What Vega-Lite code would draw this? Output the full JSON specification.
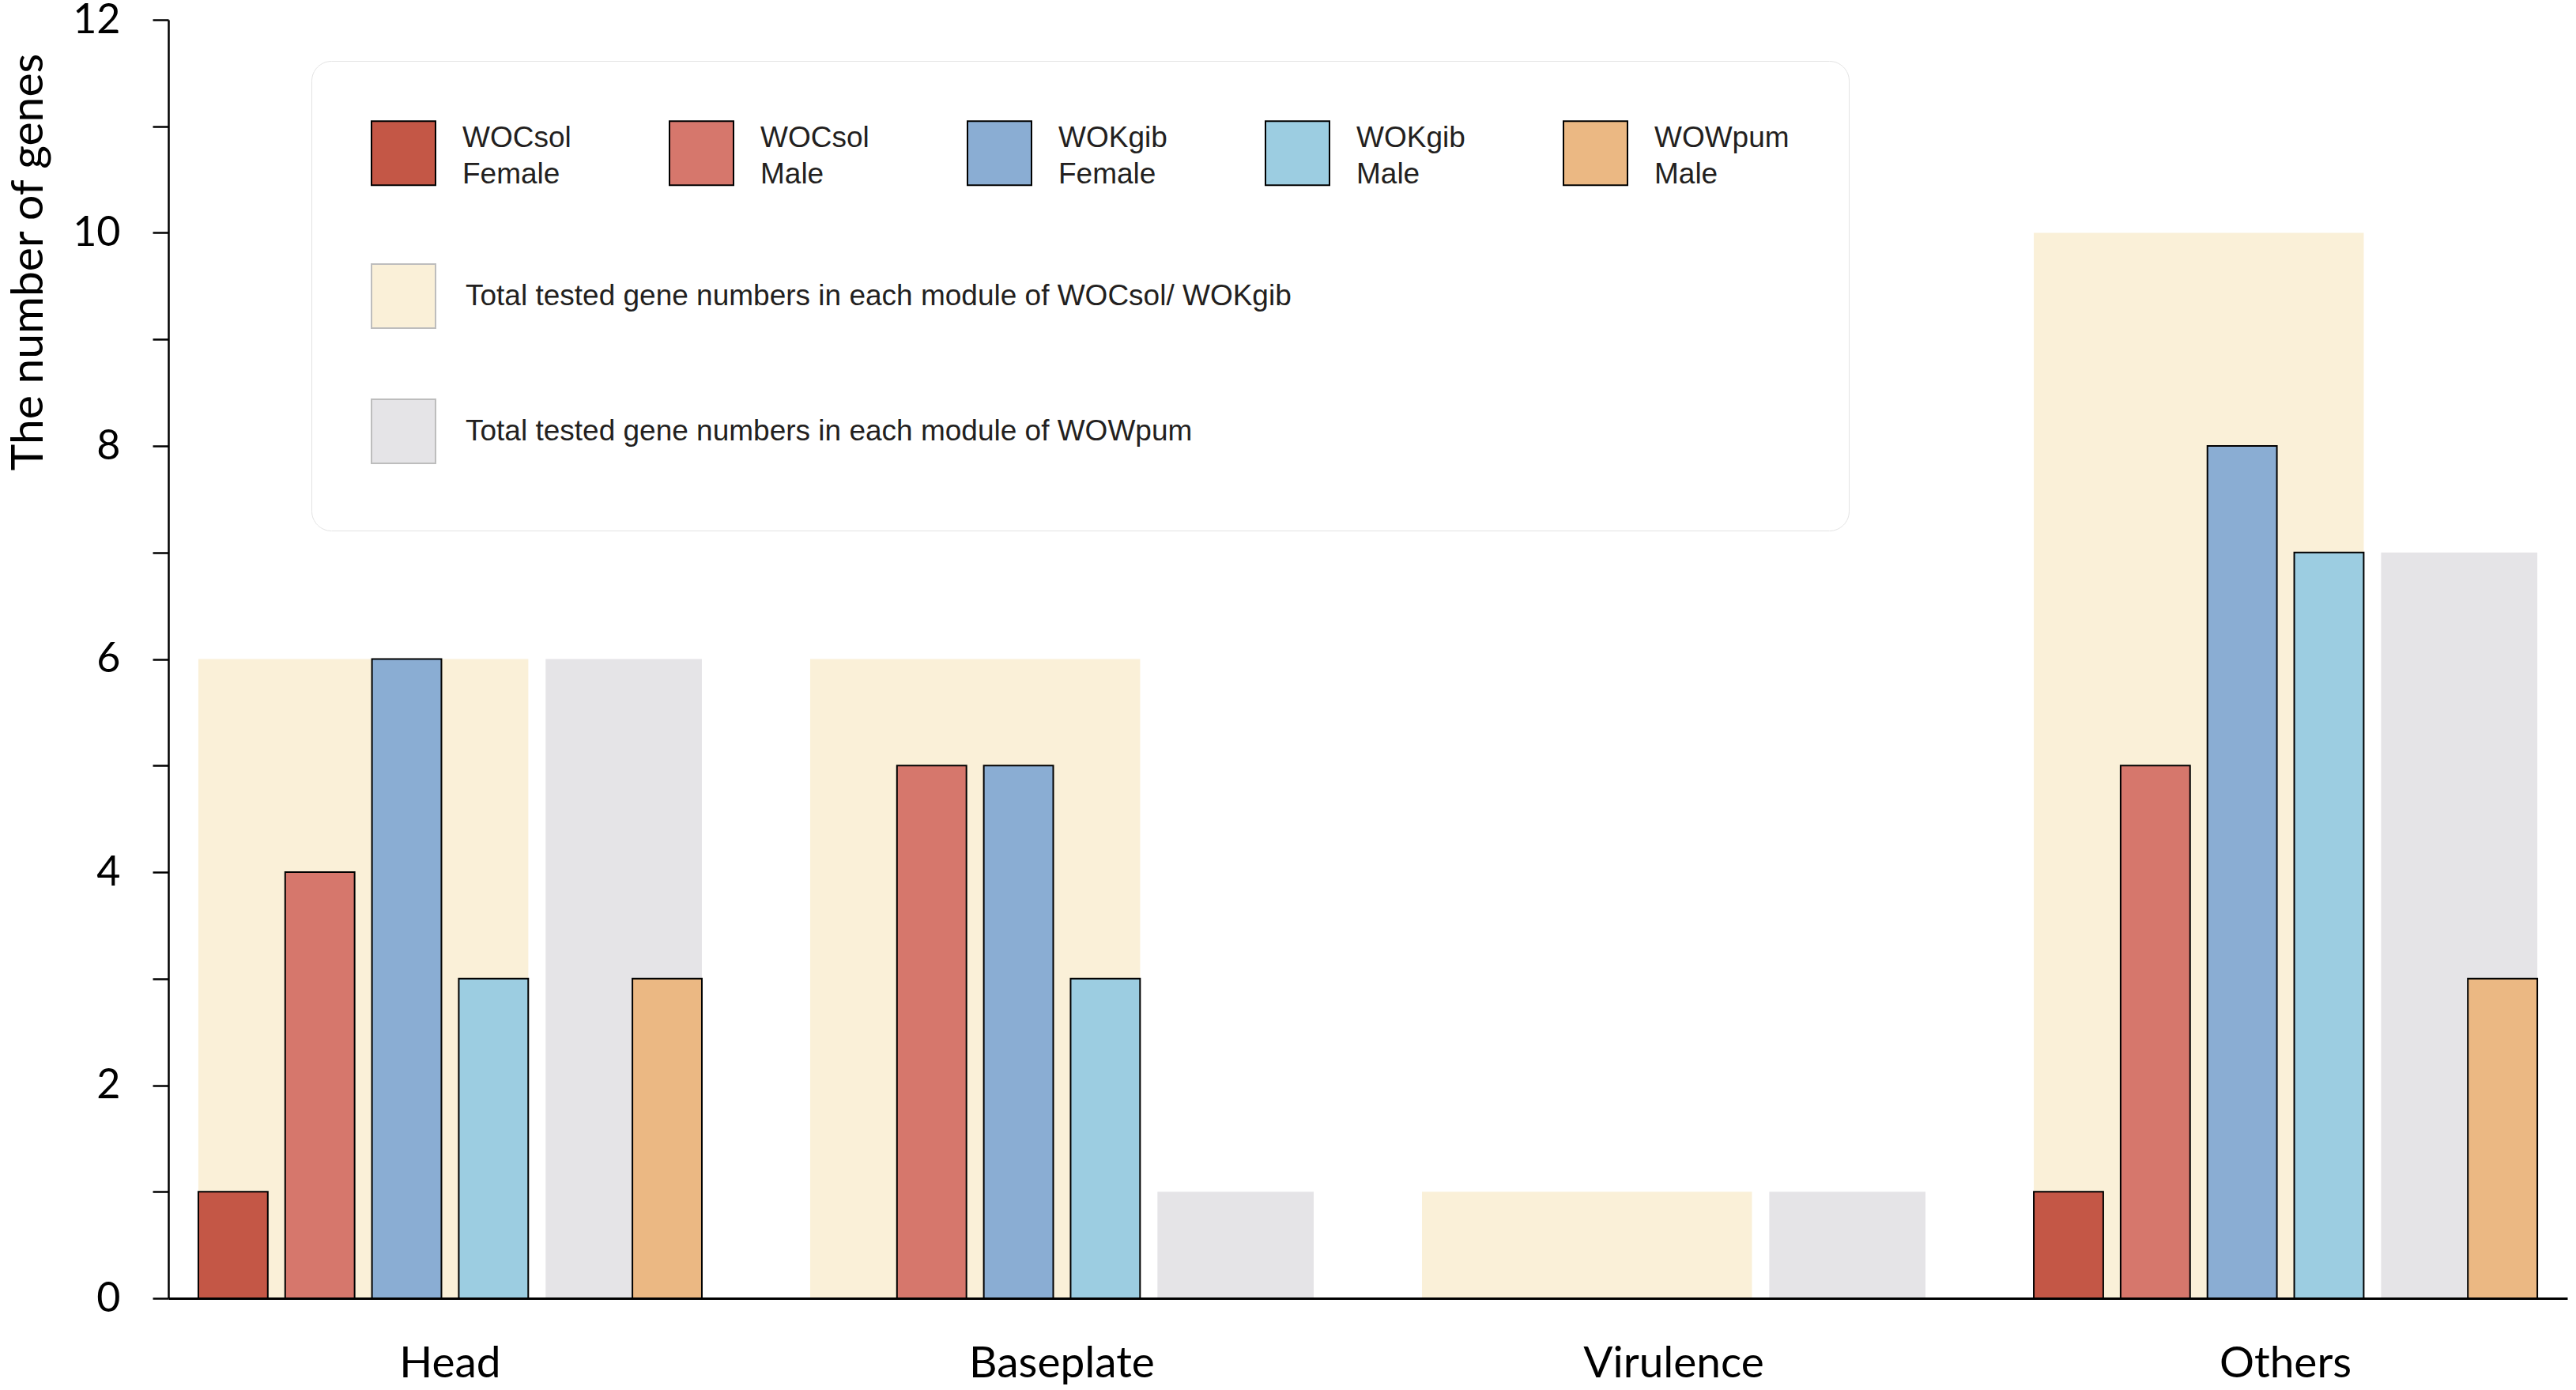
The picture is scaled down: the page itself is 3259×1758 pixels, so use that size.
{
  "$schema": "https://vega.github.io/schema/vega-lite/v6.json",
  "width": 3035,
  "height": 1617,
  "autosize": {"type": "none"},
  "padding": {"left": 213, "top": 25, "right": 11, "bottom": 116},
  "background": "white",
  "datasets": {
    "genes": [
      {"module": "Head", "series": "WOCsol Female", "genes": 1},
      {"module": "Head", "series": "WOCsol Male", "genes": 4},
      {"module": "Head", "series": "WOKgib Female", "genes": 6},
      {"module": "Head", "series": "WOKgib Male", "genes": 3},
      {"module": "Head", "series": "WOWpum Male", "genes": 3},
      {"module": "Baseplate", "series": "WOCsol Male", "genes": 5},
      {"module": "Baseplate", "series": "WOKgib Female", "genes": 5},
      {"module": "Baseplate", "series": "WOKgib Male", "genes": 3},
      {"module": "Others", "series": "WOCsol Female", "genes": 1},
      {"module": "Others", "series": "WOCsol Male", "genes": 5},
      {"module": "Others", "series": "WOKgib Female", "genes": 8},
      {"module": "Others", "series": "WOKgib Male", "genes": 7},
      {"module": "Others", "series": "WOWpum Male", "genes": 3}
    ],
    "totals": [
      {"module": "Head", "set": "Total tested gene numbers in each module of WOCsol/ WOKgib", "total": 6},
      {"module": "Head", "set": "Total tested gene numbers in each module of WOWpum", "total": 6},
      {"module": "Baseplate", "set": "Total tested gene numbers in each module of WOCsol/ WOKgib", "total": 6},
      {"module": "Baseplate", "set": "Total tested gene numbers in each module of WOWpum", "total": 1},
      {"module": "Virulence", "set": "Total tested gene numbers in each module of WOCsol/ WOKgib", "total": 1},
      {"module": "Virulence", "set": "Total tested gene numbers in each module of WOWpum", "total": 1},
      {"module": "Others", "set": "Total tested gene numbers in each module of WOCsol/ WOKgib", "total": 10},
      {"module": "Others", "set": "Total tested gene numbers in each module of WOWpum", "total": 7}
    ]
  },
  "layer": [
    {
      "data": {"name": "totals"},
      "transform": [{"filter": {"field": "set", "equal": "Total tested gene numbers in each module of WOCsol/ WOKgib"}}],
      "mark": {"type": "rect"},
      "encoding": {
        "x": {
          "field": "module", "type": "nominal", "bandPosition": 0, "title": null,
          "scale": {"domain": ["Head", "Baseplate", "Virulence", "Others"], "paddingInner": 0.177, "paddingOuter": 0.049},
          "axis": {"zindex": 1}
        },
        "x2": {"field": "module", "bandPosition": 0.6553},
        "y": {
          "field": "total", "type": "quantitative", "title": "The number of genes",
          "scale": {"domain": [0, 12], "nice": false},
          "axis": {
            "zindex": 1,
            "format": "d",
            "values": [0, 1, 2, 3, 4, 5, 6, 7, 8, 9, 10, 11, 12],
            "labelExpr": "datum.value % 2 == 0 ? datum.label : ''"
          }
        },
        "fill": {
          "field": "set", "type": "nominal",
          "scale": {
            "domain": ["Total tested gene numbers in each module of WOCsol/ WOKgib", "Total tested gene numbers in each module of WOWpum"],
            "range": ["#faf0d8", "#e5e4e7"]
          },
          "legend": {
            "orient": "none", "legendX": 256, "legendY": 308, "direction": "vertical", "title": null,
            "symbolType": "square", "symbolSize": 6561, "symbolStrokeColor": "#bdbdbd", "symbolStrokeWidth": 2, "symbolOpacity": 1,
            "labelFont": "Liberation Sans", "labelFontSize": 37, "labelColor": "#231f20", "labelOffset": 37, "labelLimit": 0,
            "rowPadding": 82, "padding": 0, "zindex": 2
          }
        }
      }
    },
    {
      "data": {"name": "totals"},
      "transform": [{"filter": {"field": "set", "equal": "Total tested gene numbers in each module of WOWpum"}}],
      "mark": {"type": "rect"},
      "encoding": {
        "x": {"field": "module", "type": "nominal", "bandPosition": 0.6897, "title": null},
        "x2": {"field": "module", "bandPosition": 1},
        "y": {"field": "total", "type": "quantitative", "title": "The number of genes"},
        "fill": {"field": "set", "type": "nominal"}
      }
    },
    {
      "data": {"name": "genes"},
      "mark": {"type": "bar", "stroke": "black", "strokeWidth": 2},
      "encoding": {
        "x": {"field": "module", "type": "nominal", "title": null},
        "xOffset": {
          "field": "series", "type": "nominal",
          "scale": {
            "domain": ["WOCsol Female", "WOCsol Male", "WOKgib Female", "WOKgib Male", "WOWpum Female", "WOWpum Male"],
            "paddingInner": 0.2, "paddingOuter": 0
          }
        },
        "y": {"field": "genes", "type": "quantitative", "title": "The number of genes"},
        "color": {
          "field": "series", "type": "nominal",
          "scale": {
            "domain": ["WOCsol Female", "WOCsol Male", "WOKgib Female", "WOKgib Male", "WOWpum Male"],
            "range": ["#c45746", "#d6776c", "#8aadd3", "#9ccde1", "#ebb883"]
          },
          "legend": {
            "orient": "none", "legendX": 181, "legendY": 52, "direction": "horizontal", "columns": 5,
            "title": " ", "titleOrient": "bottom", "titleFontSize": 10, "titlePadding": 347,
            "symbolType": "square", "symbolSize": 6561, "symbolStrokeColor": "black", "symbolStrokeWidth": 2, "symbolOpacity": 1,
            "labelFont": "Liberation Sans", "labelFontSize": 37, "labelColor": "#231f20", "labelOffset": 33, "labelLimit": 0,
            "labelBaseline": "bottom",
            "labelExpr": "split(datum.label, ' ')",
            "columnPadding": 120, "rowPadding": 0,
            "padding": 75, "strokeColor": "#e3e3e3", "cornerRadius": 25, "zindex": 1
          }
        }
      }
    }
  ],
  "config": {
    "view": {"stroke": null},
    "style": {"guide-label": {"lineHeight": 46}},
    "axis": {
      "grid": false, "domainColor": "black", "tickColor": "black", "labelColor": "black", "titleColor": "black",
      "labelFont": "Lato", "titleFont": "Lato"
    },
    "axisX": {"domainWidth": 3, "ticks": false, "tickSize": 0, "labelFontSize": 55, "labelPadding": 56, "labelAngle": 0, "labelLimit": 0},
    "axisY": {
      "domainWidth": 2.5, "tickWidth": 2.5, "tickSize": 20, "labelFontSize": 52, "labelPadding": 41,
      "titleFontSize": 57, "titleFontWeight": "normal", "titleX": -177, "titleY": 306, "titleAngle": 270,
      "titleAlign": "center", "titleBaseline": "middle"
    }
  }
}
